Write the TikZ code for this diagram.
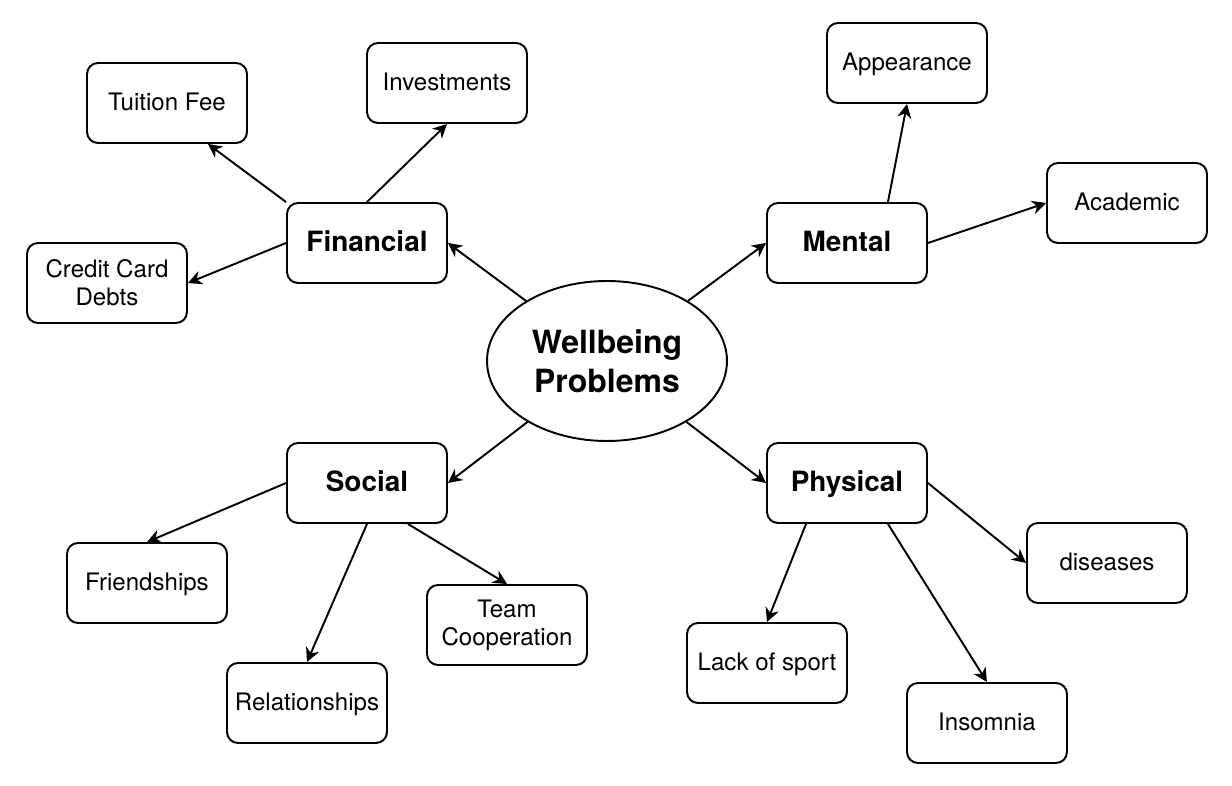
\documentclass[tikz,border=0pt]{standalone}
\usepackage{fontspec}
\setmainfont{TeX Gyre Heros}
\usetikzlibrary{shapes.geometric,arrows.meta}

\begin{document}
\begin{tikzpicture}[x=0.02cm, y=-0.02cm, line width=1.1pt,
	topic/.style={draw, rounded corners=0.22cm, minimum width=3.2cm, minimum height=1.6cm, align=center, inner sep=0pt, text height=0.88em, text depth=0pt, font=\fontsize{13.7}{16}\selectfont},
	lines/.style={text height={}, text depth={}},
	area/.style={topic, text height=1em, font=\fontsize{15.9}{19}\selectfont\bfseries},
	link/.style={-{Stealth[length=0.28cm, width=0.28cm, inset=0.09cm]}}]
	\useasboundingbox (0,0) rectangle (1232,786);
	% centre
	\node (wb) at (607,361) [draw, ellipse, minimum width=4.8cm, minimum height=3.2cm, align=center, inner sep=0pt, font=\fontsize{18.2}{21.9}\selectfont\bfseries] {Wellbeing\\Problems};
	% the four areas
	\node (fin) at (367,243) [area] {Financial};
	\node (men) at (847,243) [area] {Mental};
	\node (soc) at (367,483) [area] {Social};
	\node (phy) at (847,483) [area] {Physical};
	% financial
	\node (tui) at (167,103) [topic] {Tuition Fee};
	\node (inv) at (447,83) [topic] {Investments};
	\node (cred) at (107,283) [topic, lines] {Credit Card\\Debts};
	% mental
	\node (app) at (907,63) [topic] {Appearance};
	\node (aca) at (1127,203) [topic] {Academic};
	% social
	\node (frd) at (147,583) [topic] {Friendships};
	\node (rel) at (307,703) [topic] {Relationships};
	\node (team) at (507,625) [topic, lines] {Team\\Cooperation};
	% physical
	\node (lack) at (767,663) [topic] {Lack of sport};
	\node (ins) at (987,723) [topic] {Insomnia};
	\node (dis) at (1107,563) [topic] {diseases};

	\draw [link] (wb) -- (fin.east);
	\draw [link] (wb) -- (men.west);
	\draw [link] (wb) -- (soc.east);
	\draw [link] (wb) -- (phy.west);

	\draw [link] (fin.north west) -- (tui.-45);
	\draw [link] (fin.north) -- (inv.south);
	\draw [link] (fin.west) -- (cred.east);

	\draw [link] (men.45) -- (app.south);
	\draw [link] (men.east) -- (aca.west);

	\draw [link] (soc.west) -- (frd.north);
	\draw [link] (soc.south) -- (rel.north);
	\draw [link] (soc.-45) -- (team.north);

	\draw [link] (phy.-135) -- (lack.north);
	\draw [link] (phy.-45) -- (ins.north);
	\draw [link] (phy.east) -- (dis.west);
\end{tikzpicture}
\end{document}
